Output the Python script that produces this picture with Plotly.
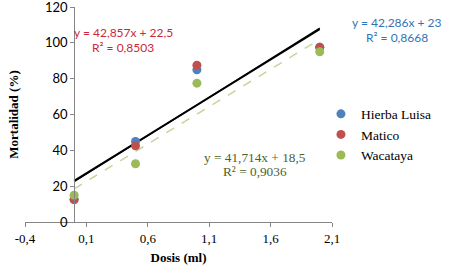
import numpy as np
import plotly.graph_objects as go

dosis = [0, 0.5, 1, 2]
hierba_luisa = [12.5, 45, 85, 97.5]
matico = [12.5, 42.5, 87.5, 97.5]
wacataya = [15, 32.5, 77.5, 95]

x_tickvals = [-0.4, 0.1, 0.6, 1.1, 1.6, 2.1]
x_ticktext = ["-0,4", "0,1", "0,6", "1,1", "1,6", "2,1"]
y_tickvals = [0, 20, 40, 60, 80, 100, 120]

series = [
    ("Hierba Luisa", hierba_luisa, "#4F81BD"),
    ("Matico", matico, "#C0504D"),
    ("Wacataya", wacataya, "#9BBB59"),
]

fig = go.Figure()

x_arr = np.array(dosis, dtype=float)
xl = np.array([min(dosis), max(dosis)])

def fit(vals):
    m, b = np.polyfit(x_arr, np.array(vals, dtype=float), 1)
    return m * xl + b

fig.add_trace(go.Scatter(x=xl, y=fit(hierba_luisa), mode="lines",
                         line=dict(color="black", width=2), showlegend=False, hoverinfo="skip"))
fig.add_trace(go.Scatter(x=xl, y=fit(matico), mode="lines",
                         line=dict(color="black", width=1.2), showlegend=False, hoverinfo="skip"))
fig.add_trace(go.Scatter(x=xl, y=fit(wacataya), mode="lines",
                         line=dict(color="#C3D69B", width=1.5, dash="dash"), showlegend=False, hoverinfo="skip"))

for name, vals, col in series:
    fig.add_trace(go.Scatter(x=dosis, y=vals, mode="markers", name=name,
                             marker=dict(color=col, size=9)))

sans = "Lato"
serif = "Liberation Serif"

ann = [
    (0.40, 105.5, "y = 42,857x + 22,5", "#C8283A", sans, 12),
    (0.40, 97.5, "R² = 0,8503", "#C8283A", sans, 12),
    (1.47, 36, "y = 41,714x + 18,5", "#4F6228", serif, 13.3),
    (1.47, 28.3, "R² = 0,9036", "#4F6228", serif, 13.3),
]
annotations = [dict(x=x, y=y, xref="x", yref="y", text=t, showarrow=False,
                    font=dict(family=f, size=s, color=c), xanchor="center", yanchor="middle")
               for x, y, t, c, f, s in ann]
annotations += [
    dict(x=1.212, y=0.926, xref="paper", yref="paper", text="y = 42,286x + 23", showarrow=False,
         font=dict(family=sans, size=12, color="#2E75B6"), xanchor="center", yanchor="middle"),
    dict(x=1.212, y=0.856, xref="paper", yref="paper", text="R² = 0,8668", showarrow=False,
         font=dict(family=sans, size=12, color="#2E75B6"), xanchor="center", yanchor="middle"),
]

fig.update_layout(
    width=456, height=272,
    margin=dict(l=25, r=124, t=7, b=50),
    paper_bgcolor="white", plot_bgcolor="white",
    showlegend=True,
    legend=dict(x=0.964, y=0.574, xanchor="left", yanchor="top",
                font=dict(family=serif, size=13.5, color="black"),
                bgcolor="rgba(0,0,0,0)", tracegroupgap=0, itemwidth=30),
    annotations=annotations,
    xaxis=dict(range=[-0.4, 2.1], domain=[0, 1], tickvals=x_tickvals, ticktext=x_ticktext,
               showgrid=False, zeroline=False, showline=True, linecolor="#868686", linewidth=1,
               ticks="outside", ticklen=4, tickcolor="#868686", automargin=False,
               tickfont=dict(family=serif, size=13, color="black"),
               title=dict(text="<b>Dosis (ml)</b>", font=dict(family=serif, size=13, color="black"),
                          standoff=8)),
    yaxis=dict(range=[0, 120], tickvals=y_tickvals, anchor="free", position=0.16,
               showgrid=False, zeroline=False, showline=True, linecolor="#868686", linewidth=1,
               ticks="outside", ticklen=4, tickcolor="#868686", automargin=False,
               ticklabeloverflow="allow",
               tickfont=dict(family=sans, size=13, color="black"),
               title=dict(text="<b>Mortalidad (%)</b>", font=dict(family=serif, size=13, color="black"),
                          standoff=22)),
)

fig.write_html("out.html", config={"displayModeBar": False},
               post_script="document.body.style.margin='0';")
